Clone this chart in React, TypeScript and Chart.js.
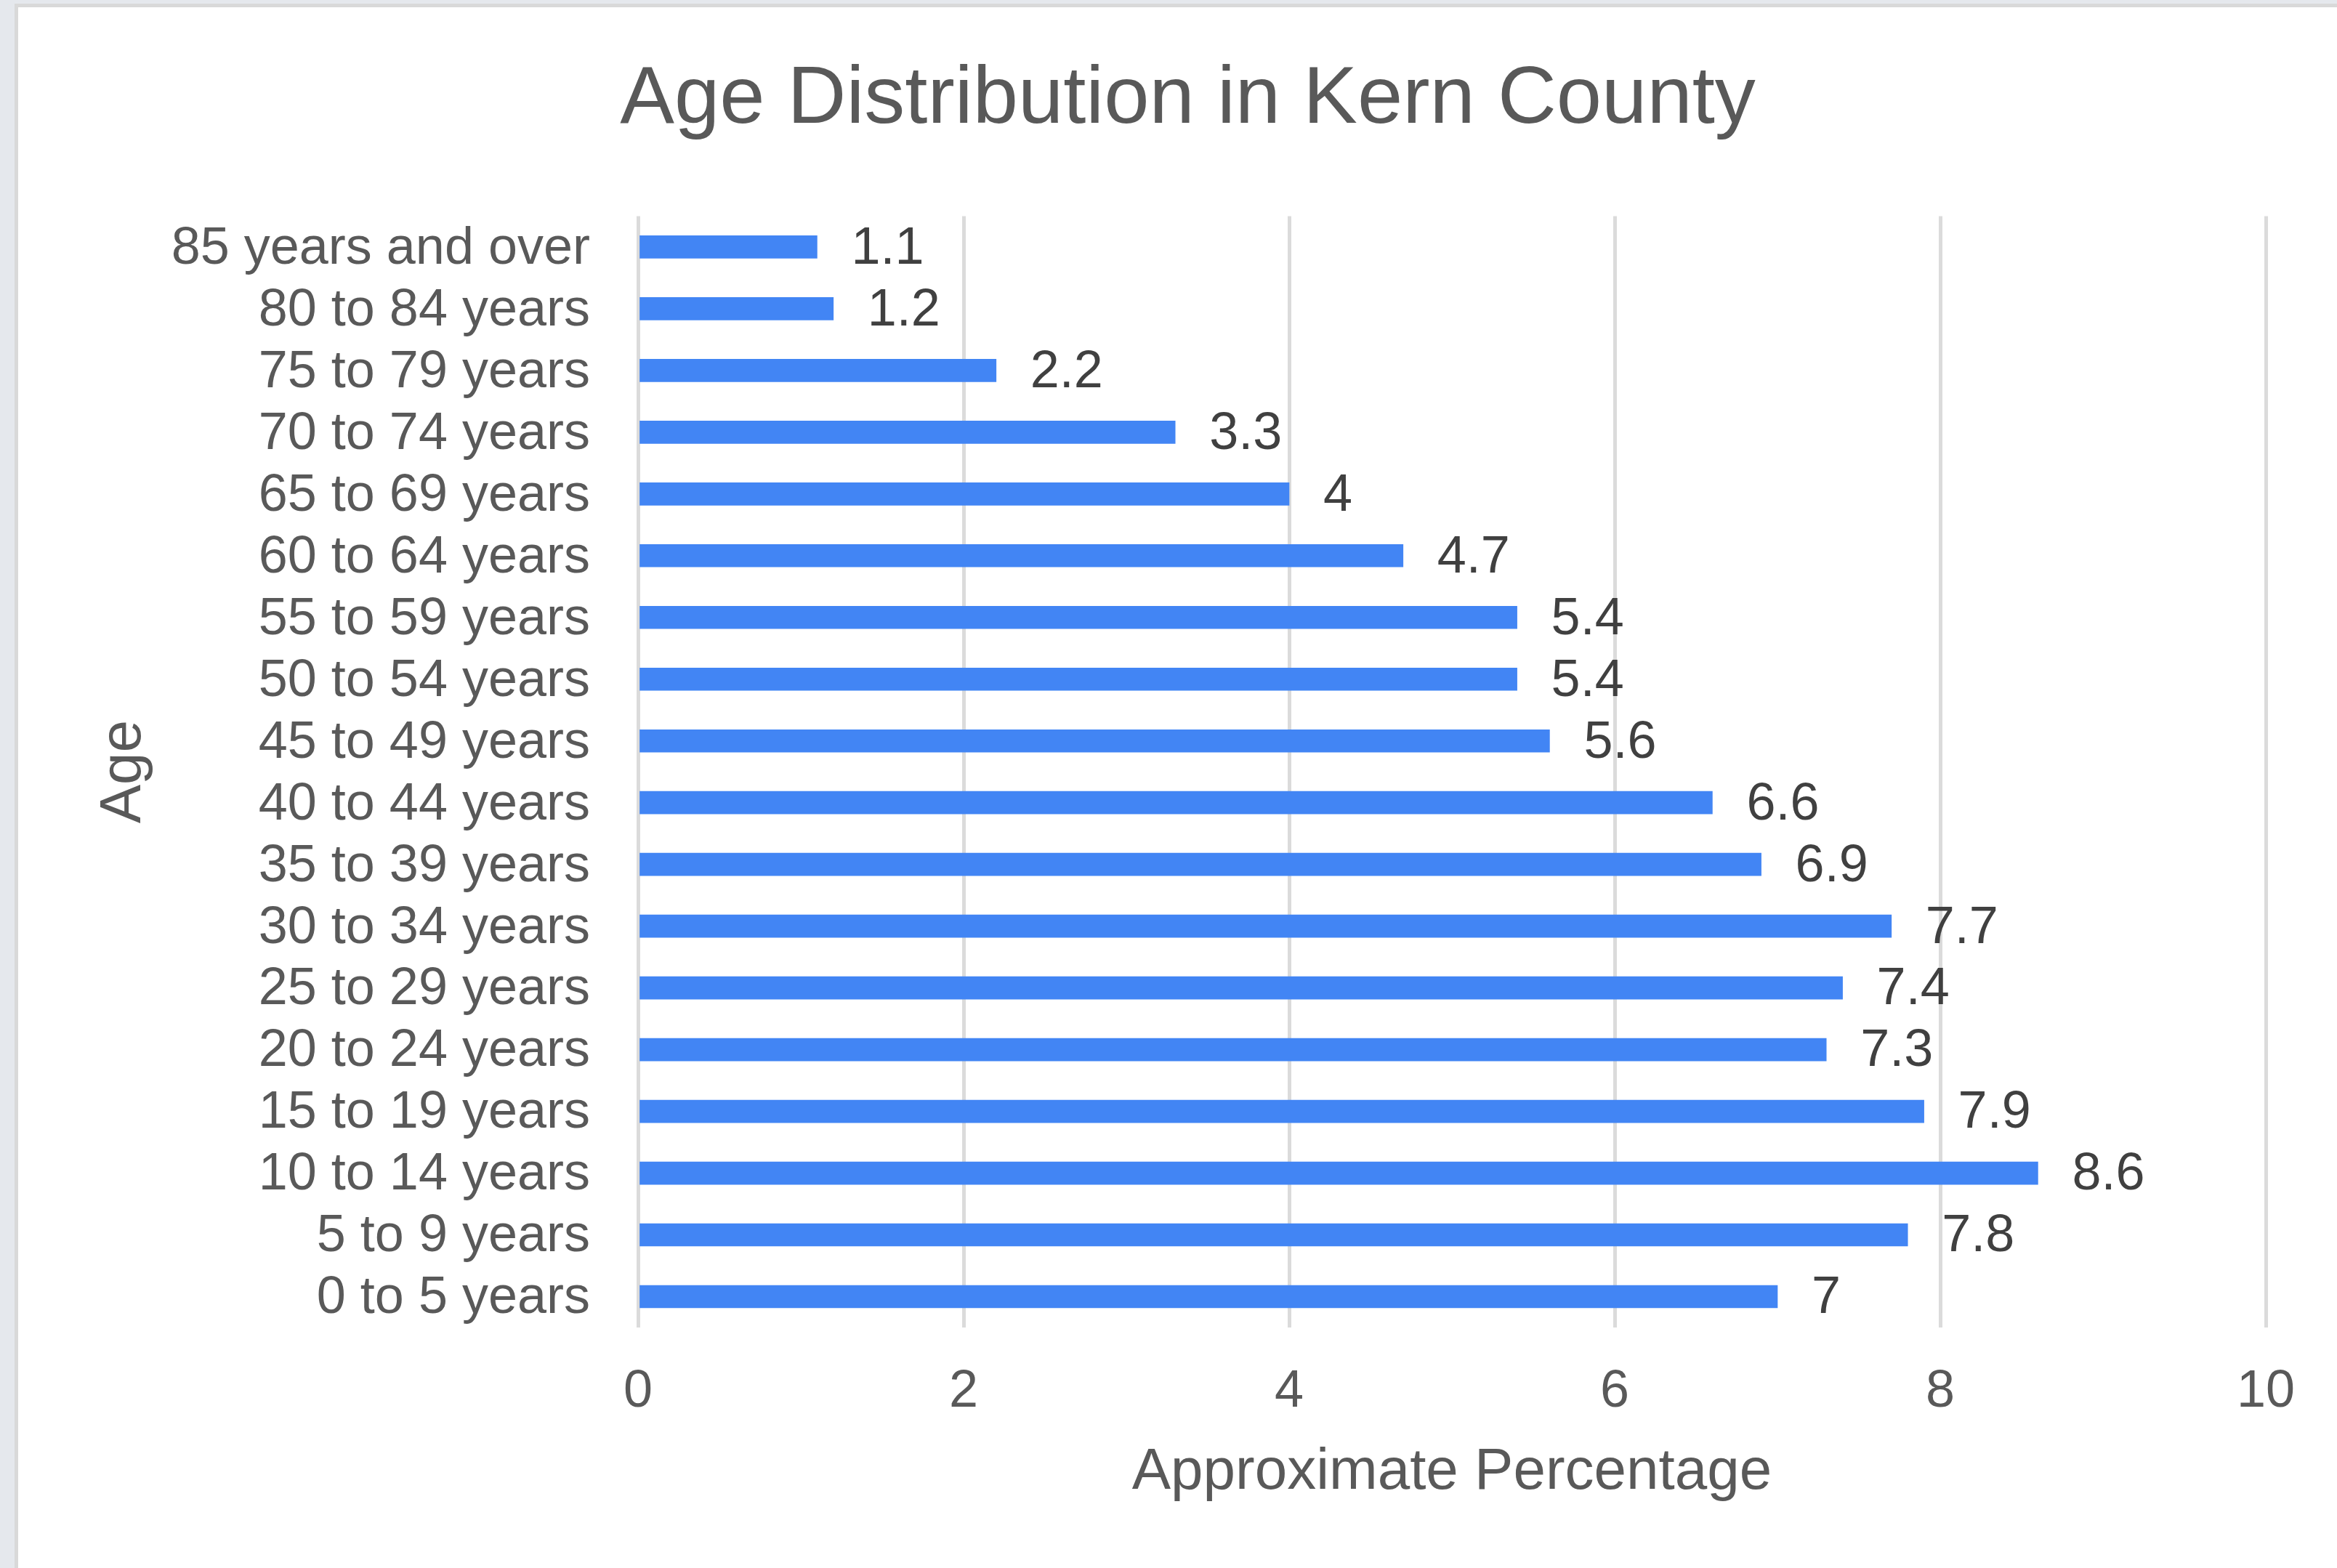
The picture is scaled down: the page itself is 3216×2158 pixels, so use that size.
import React, { useEffect, useRef } from "react";
import { Chart, registerables } from "chart.js";

Chart.register(...registerables);

const FONT = '"Liberation Sans", Arial, sans-serif';

const TITLE = "Age Distribution in Kern County";
const X_TITLE = "Approximate Percentage";
const Y_TITLE = "Age";

const categories = [
  "0 to 5 years",
  "5 to 9 years",
  "10 to 14 years",
  "15 to 19 years",
  "20 to 24 years",
  "25 to 29 years",
  "30 to 34 years",
  "35 to 39 years",
  "40 to 44 years",
  "45 to 49 years",
  "50 to 54 years",
  "55 to 59 years",
  "60 to 64 years",
  "65 to 69 years",
  "70 to 74 years",
  "75 to 79 years",
  "80 to 84 years",
  "85 years and over",
];

const percentages = [7, 7.8, 8.6, 7.9, 7.3, 7.4, 7.7, 6.9, 6.6, 5.6, 5.4, 5.4, 4.7, 4, 3.3, 2.2, 1.2, 1.1];

const xTicks = [0, 2, 4, 6, 8, 10];

const CANVAS_W = 3191;
const CANVAS_H = 2148;

const valueLabelPlugin = {
  id: "valueLabels",
  afterDatasetsDraw(chart: any) {
    const ctx = chart.ctx;
    const meta = chart.getDatasetMeta(0);
    ctx.save();
    ctx.font = `72px ${FONT}`;
    ctx.fillStyle = "#404040";
    ctx.textAlign = "left";
    ctx.textBaseline = "middle";
    meta.data.forEach((el: any, i: number) => {
      ctx.fillText(String(percentages[i]), el.x + 47, el.y + 3);
    });
    ctx.restore();
  },
};

const titleShiftPlugin = {
  id: "titleShift",
  afterLayout(chart: any) {
    const t = chart.titleBlock;
    if (t) {
      t.left = 126;
      t.right = chart.chartArea.right;
      t.width = t.right - t.left;
    }
  },
};

export default function App() {
  const ref = useRef<HTMLCanvasElement | null>(null);

  useEffect(() => {
    if (!ref.current) return;
    const chart = new Chart(ref.current, {
      type: "bar",
      data: {
        labels: categories,
        datasets: [
          {
            label: "Approximate Percentage",
            data: percentages,
            backgroundColor: "#4285F4",
            borderWidth: 0,
            barThickness: 31,
          },
        ],
      },
      options: {
        animation: false,
        responsive: false,
        devicePixelRatio: 1,
        indexAxis: "y",
        layout: { padding: { left: 0, top: 0, right: 98, bottom: 0 } },
        plugins: {
          legend: { display: false },
          tooltip: { enabled: false },
          title: {
            display: true,
            text: TITLE,
            color: "#595959",
            font: { size: 112, weight: "normal", family: FONT, lineHeight: 1.2 },
            padding: { top: 61, bottom: 92 },
          },
        },
        scales: {
          x: {
            type: "linear",
            position: "bottom",
            min: 0,
            max: 10,
            afterBuildTicks: (s: any) => {
              s.ticks = xTicks.map((v) => ({ value: v }));
            },
            grid: { color: "#dbdbdb", lineWidth: 5, drawTicks: false },
            border: { display: false },
            ticks: {
              color: "#595959",
              font: { size: 72, family: FONT, lineHeight: 1.2 },
              padding: 46,
            },
            title: {
              display: true,
              text: X_TITLE,
              color: "#595959",
              font: { size: 80, family: FONT, lineHeight: 1.2 },
              padding: { top: 0, bottom: 83 },
            },
            afterFit: (s: any) => {
              s.height = 331;
            },
          },
          y: {
            type: "category",
            reverse: true,
            grid: { display: false, drawTicks: false },
            border: { display: false },
            ticks: {
              color: "#595959",
              font: { size: 72, family: FONT, lineHeight: 1.2 },
              padding: 66,
              labelOffset: 3,
              autoSkip: false,
            },
            title: {
              display: true,
              text: Y_TITLE,
              color: "#595959",
              font: { size: 80, family: FONT, lineHeight: 1.2 },
              padding: { top: 98, bottom: 0 },
            },
            afterFit: (s: any) => {
              s.width = 853;
            },
          },
        },
      } as any,
      plugins: [valueLabelPlugin, titleShiftPlugin],
    });
    return () => chart.destroy();
  }, []);

  return (
    <div
      style={{
        position: "absolute",
        left: 0,
        top: 0,
        width: 3216,
        height: 2158,
        overflow: "hidden",
        background: "#e5e8ed",
      }}
    >
      <div style={{ position: "absolute", left: 20, top: 5, right: 0, bottom: 0, background: "#d9d9d9" }} />
      <div style={{ position: "absolute", left: 25, top: 10, right: 0, bottom: 0, background: "#ffffff" }}>
        <canvas
          ref={ref}
          width={CANVAS_W}
          height={CANVAS_H}
          style={{ display: "block", width: CANVAS_W, height: CANVAS_H }}
        />
      </div>
    </div>
  );
}
